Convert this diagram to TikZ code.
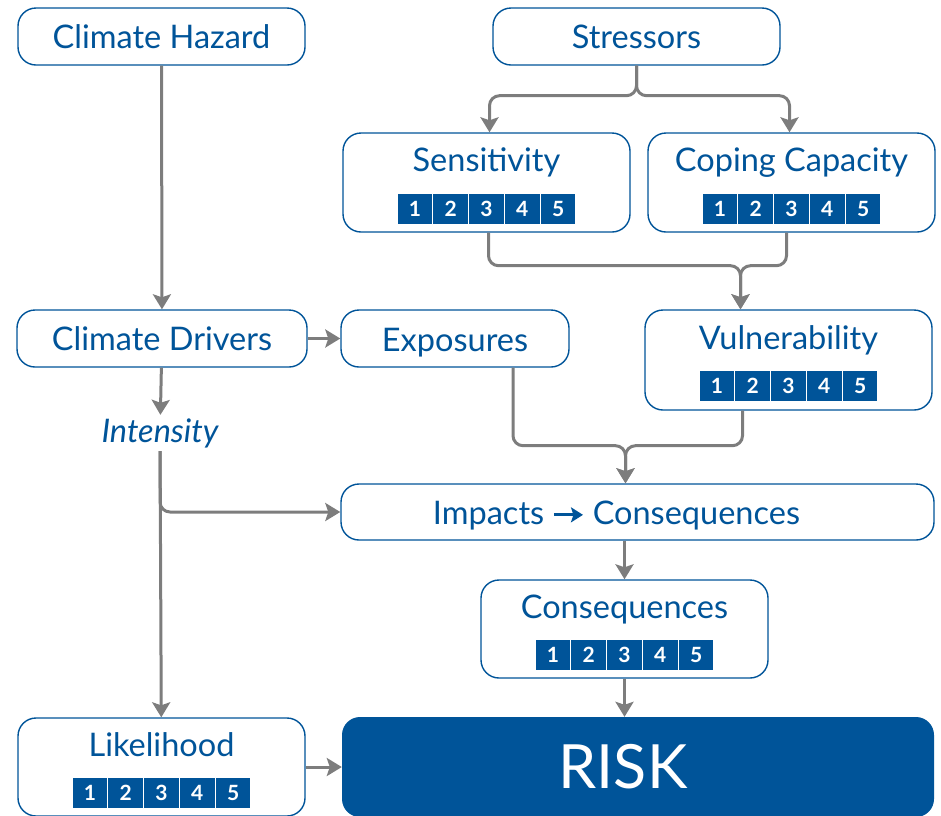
\documentclass[tikz,border=0pt]{standalone}
\usepackage{fontspec}
\setmainfont{Lato}
\usepackage{tikz}
\usetikzlibrary{shapes.geometric,arrows,arrows.meta}
\definecolor{riskblue}{RGB}{0,84,153}
\definecolor{linkgray}{RGB}{125,125,125}
\setlength{\fboxsep}{0pt}
\tikzstyle{box} = [rectangle, rounded corners=18pt, draw=riskblue, line width=1.4pt, fill=white,
text=riskblue, align=center, font=\fontsize{32.5}{36}\selectfont, minimum width=287pt, minimum height=57pt, inner sep=0pt]
\tikzstyle{riskbox} = [rectangle, rounded corners=18pt, fill=riskblue, text=white,
font=\fontsize{61}{66}\selectfont, minimum width=592pt, minimum height=100pt, inner sep=0pt]
\tikzstyle{arrow} = [draw=linkgray, line width=3pt, -{Stealth[length=15pt,width=18pt,inset=3pt]}, rounded corners=10pt]
\newcommand{\cell}[1]{\colorbox{riskblue}{\parbox[c][30pt][c]{34.5pt}{\centering\fontsize{21}{21}\selectfont\bfseries\color{white}#1}}}
\newcommand{\rating}{\cell{1}\hspace{1.3pt}\cell{2}\hspace{1.3pt}\cell{3}\hspace{1.3pt}\cell{4}\hspace{1.3pt}\cell{5}}
\newcommand{\toppad}{\rule{0pt}{30.5pt}}
\newcommand{\descpad}{\rule{0pt}{31pt}}
\newcommand{\thenarrow}{\tikz[baseline=-0.6ex]\draw[riskblue, line width=3pt, -{Stealth[length=12pt,width=15pt,inset=2.5pt]}] (0pt,0pt) -- (29pt,0pt);}

\begin{document}
\begin{tikzpicture}[x=1pt,y=-1pt]
                 \useasboundingbox (0,0) rectangle (941,815);
                 \clip (0,0) rectangle (941,815);
                 \node (hazard) [box] at (161.5,36.5) {Climate Hazard};
                 \node (stress) [box] at (636.5,36.5) {Stressors};
                 \node (sens) [box, minimum height=99pt] at (486.5,182.5) {\toppad Sensitivity\\[7pt]\rating};
                 \node (coping) [box, minimum height=99pt] at (791.5,182.5) {\toppad Coping Capacity\\[7pt]\rating};
                 \node (drivers) [box, minimum width=290pt] at (162,338.5) {Climate Drivers};
                 \node (expo) [box, minimum width=228pt] at (455,338.5) {\descpad Exposures};
                 \node (vuln) [box, minimum height=100pt] at (788.5,360) {\toppad Vulnerability\\[7pt]\rating};
                 \node (intensity) [text=riskblue, font=\fontsize{32.5}{36}\selectfont\itshape] at (160,433) {Intensity};
                 \node (impacts) [box, minimum width=593pt, minimum height=56pt] at (637.5,512) {\descpad Impacts \thenarrow\ Consequences\hspace*{42pt}};
                 \node (conseq) [box, minimum height=98pt] at (624.5,629) {\toppad Consequences\\[7pt]\rating};
                 \node (likeli) [box, minimum height=98pt] at (161.5,767) {\toppad Likelihood\\[7pt]\rating};
                 \node (risk) [riskbox] at (638,767) {RISK\hspace*{30pt}};
                 \draw [arrow] (hazard) -- (drivers);
                 \draw [arrow] (stress.south) -- ++(0,30) -| ([xshift=3]sens.north);
                 \draw [arrow] (stress.south) -- ++(0,30) -| ([xshift=-2]coping.north);
                 \draw [arrow] ([xshift=2]sens.south) -- ++(0,33) -| ([xshift=-48]vuln.north);
                 \draw [arrow] ([xshift=-5]coping.south) -- ++(0,33) -| ([xshift=-48]vuln.north);
                 \draw [arrow] (drivers) -- (expo);
                 \draw [arrow] (drivers) -- (intensity);
                 \draw [arrow] ([xshift=58]expo.south) -- ++(0,78) -| ([xshift=-12]impacts.north);
                 \draw [arrow] ([xshift=-46]vuln.south) -- ++(0,35) -| ([xshift=-12]impacts.north);
                 \draw [arrow] (intensity) |- (impacts.west);
                 \draw [arrow] (intensity) -- (likeli);
                 \draw [arrow] (conseq.north |- impacts.south) -- (conseq.north);
                 \draw [arrow] (conseq.south) -- (conseq.south |- risk.north);
                 \draw [arrow] (likeli) -- (risk);
             \end{tikzpicture}
\end{document}
